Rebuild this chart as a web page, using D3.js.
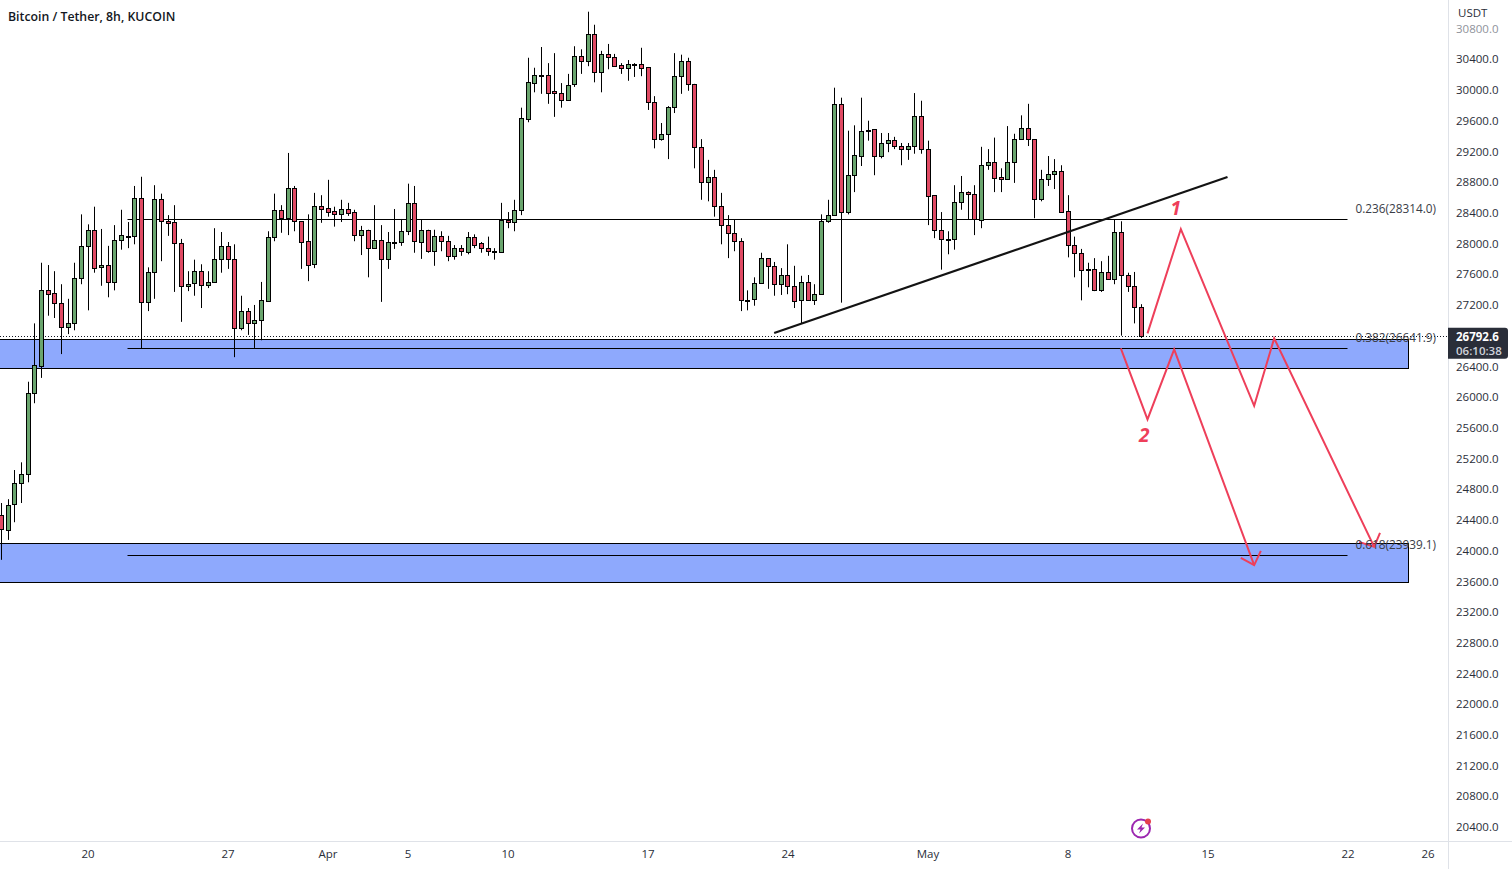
<!DOCTYPE html>
<html>
<head>
<meta charset="utf-8">
<style>
	html, body { margin: 0; padding: 0; background: #fff; overflow: hidden; }
	text { font-family: "Open Sans", sans-serif; }
</style>
</head>
<body>
<div id="chart"></div>
<script src="https://cdn.jsdelivr.net/npm/d3@7/dist/d3.min.js"></script>
<script>
// 8h candles, first bar is 15 Mar 16:00, one row per ten bars
const opens = [
	24460, 24280, 24600, 24880, 25000, 26050, 26400, 27390, 27350, 27220,
	26910, 26960, 27550, 27970, 28180, 27690, 27720, 27500, 28050, 28100,
	28090, 28590, 27240, 27630, 28580, 28290, 28280, 28010, 27450, 27490,
	27640, 27460, 27500, 27800, 27970, 27800, 26900, 27120, 26960, 27000,
	27260, 28090, 28440, 28330, 28720, 28290, 28030, 27730, 28490, 28460,
	28420, 28380, 28450, 28410, 28110, 28180, 27950, 28050, 27800, 28020,
	28020, 28160, 28530, 28030, 28180, 27910, 28100, 28030, 27840, 27940,
	27900, 28090, 28010, 27940, 27900, 27890, 28310, 28280, 28440, 29620,
	30100, 30200, 30200, 29990, 29960, 29870, 30070, 30440, 30380, 30730,
	30240, 30470, 30430, 30330, 30290, 30340, 30340, 30300, 29840, 29360,
	29430, 29780, 30180, 30380, 30080, 29260, 28800, 28870, 28490, 28240,
	28140, 28030, 27260, 27280, 27490, 27810, 27710, 27470, 27590, 27450,
	27260, 27500, 27260, 27340, 28290, 28370, 29820, 28410, 28890, 29150,
	29480, 29490, 29140, 29310, 29350, 29270, 29230, 29270, 29660, 29230,
	28630, 28180, 28060, 28060, 28540, 28670, 28640, 28310, 29020, 29060,
	28870, 28840, 29060, 29360, 29500, 29360, 28580, 28840, 28910, 28950,
	28420, 27980, 27880, 27670, 27670, 27390, 27630, 27540, 28150, 27590,
	27450, 27170
];
const highs = [
	24620, 24670, 25050, 25150, 26200, 26960, 27750, 27720, 27640, 27470,
	27280, 27750, 28380, 28250, 28480, 28190, 27970, 28240, 28440, 28280,
	28750, 28870, 27690, 28760, 28650, 28370, 28500, 28060, 27640, 27790,
	27730, 27640, 28200, 28150, 28020, 27990, 27320, 27160, 27200, 27500,
	28160, 28650, 28500, 29180, 28750, 28290, 28380, 28660, 28630, 28830,
	28480, 28570, 28530, 28440, 28230, 28180, 28500, 28240, 28150, 28450,
	28320, 28780, 28750, 28310, 28180, 28180, 28160, 28100, 27980, 27980,
	28150, 28120, 28020, 28090, 27940, 28530, 28410, 28570, 29770, 30420,
	30290, 30560, 30350, 30480, 30090, 30210, 30570, 30530, 31020, 30850,
	30510, 30600, 30470, 30350, 30390, 30350, 30550, 30300, 29920, 29570,
	29790, 30480, 30460, 30420, 30080, 29360, 29090, 28960, 28660, 28370,
	28310, 28070, 27390, 27560, 27880, 27810, 27760, 27680, 27990, 27710,
	27580, 27590, 27470, 28380, 28570, 30030, 29900, 29470, 29540, 29900,
	29600, 29490, 29440, 29440, 29390, 29310, 29310, 29960, 29860, 29340,
	28630, 28410, 28160, 28760, 28880, 28680, 28760, 29260, 29230, 29380,
	28980, 29530, 29430, 29670, 29820, 29360, 28960, 29140, 29100, 29020,
	28630, 28090, 27930, 27750, 27810, 27770, 27840, 28310, 28290, 27620,
	27630, 27210
];
const lows = [
	23880, 24140, 24370, 24620, 24890, 25920, 26250, 27060, 27030, 26560,
	26820, 26870, 27470, 27130, 27620, 27450, 27300, 27390, 27920, 27940,
	27990, 26630, 27120, 27280, 27770, 28100, 27370, 26980, 27380, 27320,
	27160, 27420, 27490, 27620, 27670, 26520, 26870, 26810, 26640, 26740,
	27240, 28030, 28140, 28110, 28160, 27670, 27510, 27680, 28270, 28350,
	28220, 28280, 28360, 28030, 27850, 27560, 27950, 27240, 27670, 27930,
	27970, 28110, 27880, 27800, 27880, 27710, 27900, 27770, 27790, 27840,
	27860, 27940, 27880, 27840, 27790, 27890, 28200, 28160, 28370, 29580,
	29970, 29950, 29820, 29650, 29770, 29860, 30040, 30210, 30310, 30100,
	29970, 30270, 30300, 30210, 30120, 30170, 30180, 29740, 29240, 29340,
	29100, 29700, 29950, 29990, 28980, 28570, 28550, 28350, 27990, 27810,
	27900, 27120, 27130, 27190, 27490, 27410, 27320, 27330, 27340, 27160,
	26960, 27260, 27200, 27330, 28270, 28370, 27230, 28380, 28670, 29010,
	29340, 28890, 29110, 29190, 29230, 29020, 29090, 29170, 29170, 28240,
	28070, 27660, 27860, 27920, 28440, 28320, 28110, 28200, 28960, 28670,
	28670, 28830, 28790, 29350, 29270, 28330, 28550, 28750, 28710, 28400,
	27820, 27560, 27260, 27430, 27380, 27370, 27540, 27470, 26800, 27370,
	26960, 26770
];
const closes = [
	24280, 24600, 24880, 25000, 26050, 26420, 27390, 27340, 27220, 26910,
	26960, 27550, 27970, 28180, 27690, 27720, 27500, 28050, 28110, 28090,
	28590, 27240, 27630, 28580, 28290, 28270, 28010, 27450, 27470, 27640,
	27460, 27500, 27800, 27970, 27800, 26900, 27120, 26960, 27000, 27260,
	28090, 28440, 28330, 28720, 28290, 28020, 27720, 28490, 28450, 28410,
	28380, 28450, 28400, 28110, 28180, 27950, 28050, 27800, 28020, 28010,
	28160, 28530, 28030, 28180, 27900, 28100, 28030, 27840, 27940, 27900,
	28090, 27990, 27940, 27900, 27890, 28310, 28280, 28440, 29640, 30100,
	30200, 30190, 29970, 29960, 29870, 30070, 30440, 30380, 30730, 30240,
	30470, 30430, 30310, 30290, 30340, 30330, 30290, 29840, 29360, 29430,
	29780, 30180, 30380, 30080, 29260, 28800, 28870, 28490, 28240, 28140,
	28030, 27260, 27250, 27490, 27810, 27710, 27470, 27590, 27450, 27260,
	27500, 27260, 27340, 28290, 28370, 29820, 28410, 28890, 29150, 29470,
	29470, 29140, 29310, 29350, 29270, 29230, 29270, 29660, 29230, 28620,
	28180, 28060, 28050, 28540, 28670, 28640, 28310, 29020, 29060, 28850,
	28840, 29060, 29360, 29500, 29360, 28580, 28840, 28910, 28950, 28410,
	27980, 27880, 27660, 27660, 27390, 27630, 27540, 28150, 27590, 27450,
	27170, 26792.6
];

const priceTicks = [
	30800, 30400, 30000, 29600, 29200, 28800, 28400, 28000, 27600, 27200,
	26400, 26000, 25600, 25200, 24800, 24400, 24000, 23600, 23200, 22800,
	22400, 22000, 21600, 21200, 20800, 20400
];
const timeTickDates = [
	'2023-03-20', '2023-03-27', '2023-04-01', '2023-04-05', '2023-04-10', '2023-04-17',
	'2023-04-24', '2023-05-01', '2023-05-08', '2023-05-15', '2023-05-22', '2023-05-26'
];
const timeTickLabels = ['20', '27', 'Apr', '5', '10', '17', '24', 'May', '8', '15', '22', '26'];

const firstBar = '2023-03-15T16:00Z';
const lastPrice = 26792.6;
const countdown = '06:10:38';

const fibLevels = [
	{ label: '0.236(28314.0)', price: 28314 },
	{ label: '0.382(26641.9)', price: 26641.9 },
	{ label: '0.618(23939.1)', price: 23939.1 }
];
const fibRange = ['2023-03-22T00:00Z', '2023-05-22T00:00Z'];

const zones = [
	{ from: '2023-03-10T00:00Z', to: '2023-05-25T00:00Z', top: 26755, bottom: 26371 },
	{ from: '2023-03-10T00:00Z', to: '2023-05-25T00:00Z', top: 24103, bottom: 23590 }
];

const trendLine = [['2023-04-23T08:00Z', 26834], ['2023-05-16T00:00Z', 28866]];

const forecastUp = [
	['2023-05-12T00:00Z', 26830], ['2023-05-13T16:00Z', 28189], ['2023-05-17T08:00Z', 25886],
	['2023-05-18T08:00Z', 26765], ['2023-05-23T08:00Z', 24049]
];
const forecastUpHead = [['2023-05-22T14:00Z', 24114], ['2023-05-23T08:00Z', 24049], ['2023-05-23T15:00Z', 24232]];
const forecastDown = [
	['2023-05-10T16:00Z', 26634], ['2023-05-12T00:00Z', 25709], ['2023-05-13T08:00Z', 26621],
	['2023-05-17T08:00Z', 23811]
];
const forecastDownHead = [['2023-05-16T16:00Z', 23906], ['2023-05-17T08:00Z', 23811], ['2023-05-17T16:00Z', 23997]];
const waveLabels = [
	{ text: '1', time: '2023-05-13T10:00Z', price: 28370 },
	{ text: '2', time: '2023-05-11T20:00Z', price: 25410 }
];

const width = 1512,
	height = 869,
	plotRight = 1448,
	plotBottom = 841,
	upColor = '#6aa56e',
	downColor = '#e04a64',
	zoneColor = '#8ea9fd',
	forecastColor = '#ee3f5a',
	textColor = '#2a2e39',
	axisLine = '#dfe2e8';

const xScale = d3.scaleUtc()
	.domain([new Date('2023-03-20T00:00Z'), new Date('2023-05-26T00:00Z')])
	.range([87.5, 1427.5]);
const yScale = d3.scaleLinear().domain([30000, 20400]).range([90, 827]);

const t = s => xScale(new Date(s));
const crisp = v => Math.round(v) + 0.5;

const svg = d3.select('#chart').append('svg')
	.attr('width', width)
	.attr('height', height);

svg.append('defs').append('clipPath').attr('id', 'plot')
	.append('rect').attr('width', plotRight).attr('height', plotBottom);

const g = svg.append('g').attr('clip-path', 'url(#plot)');

// Zones sit under the candles
g.selectAll('.zone')
	.data(zones)
	.enter().append('rect')
	.attr('class', 'zone')
	.attr('x', d => crisp(t(d.from)))
	.attr('y', d => crisp(yScale(d.top)))
	.attr('width', d => Math.round(t(d.to) - t(d.from)))
	.attr('height', d => Math.round(yScale(d.bottom) - yScale(d.top)))
	.attr('fill', zoneColor)
	.attr('stroke', '#000')
	.attr('stroke-width', 1);

// Last price dotted line
g.append('line')
	.attr('x1', 0)
	.attr('x2', plotRight)
	.attr('y1', crisp(yScale(lastPrice)))
	.attr('y2', crisp(yScale(lastPrice)))
	.attr('stroke', '#131722')
	.attr('stroke-dasharray', '1,2');

// Fib levels
g.selectAll('.fib')
	.data(fibLevels)
	.enter().append('line')
	.attr('class', 'fib')
	.attr('x1', t(fibRange[0]))
	.attr('x2', t(fibRange[1]))
	.attr('y1', d => crisp(yScale(d.price)))
	.attr('y2', d => crisp(yScale(d.price)))
	.attr('stroke', '#000')
	.attr('stroke-width', 1);

// Candles
const barTimes = closes.map((c, i) => d3.utcHour.offset(new Date(firstBar), i * 8));
const bars = g.selectAll('.bar')
	.data(closes)
	.enter().append('g')
	.attr('class', 'bar');

bars.append('line')
	.attr('x1', (d, i) => crisp(xScale(barTimes[i])))
	.attr('x2', (d, i) => crisp(xScale(barTimes[i])))
	.attr('y1', (d, i) => yScale(highs[i]))
	.attr('y2', (d, i) => yScale(lows[i]))
	.attr('stroke', '#000');

bars.append('rect')
	.attr('x', (d, i) => crisp(xScale(barTimes[i])) - 2)
	.attr('y', (d, i) => crisp(yScale(Math.max(opens[i], d))))
	.attr('width', 4)
	.attr('height', (d, i) => Math.max(1, Math.round(Math.abs(yScale(opens[i]) - yScale(d)))))
	.attr('fill', (d, i) => d >= opens[i] ? upColor : downColor)
	.attr('stroke', '#000');

const line = d3.line()
	.x(d => t(d[0]))
	.y(d => yScale(d[1]));

// Trend line
g.append('path')
	.attr('d', line(trendLine))
	.attr('fill', 'none')
	.attr('stroke', '#131313')
	.attr('stroke-width', 2.2);

// Projected moves
[forecastUp, forecastUpHead, forecastDown, forecastDownHead].forEach(pts => {
	g.append('path')
		.attr('d', line(pts))
		.attr('fill', 'none')
		.attr('stroke', forecastColor)
		.attr('stroke-width', 2);
});

g.selectAll('.wave')
	.data(waveLabels)
	.enter().append('text')
	.attr('class', 'wave')
	.attr('x', d => t(d.time))
	.attr('y', d => yScale(d.price))
	.attr('text-anchor', 'middle')
	.attr('fill', forecastColor)
	.attr('font-size', 19)
	.attr('font-weight', 700)
	.attr('font-style', 'italic')
	.text(d => d.text);

// Fib labels
g.selectAll('.fib-label')
	.data(fibLevels)
	.enter().append('text')
	.attr('class', 'fib-label')
	.attr('x', 1436)
	.attr('y', d => crisp(yScale(d.price)) - 7)
	.attr('text-anchor', 'end')
	.attr('fill', '#3a3d47')
	.attr('font-size', 11.8)
	.text(d => d.label);

// Axes
const yAxis = svg.append('g')
	.attr('transform', 'translate(' + plotRight + ',0)')
	.call(d3.axisRight(yScale).tickValues(priceTicks).tickSize(0).tickPadding(8).tickFormat(d3.format('.1f')));
yAxis.select('.domain').remove();
yAxis.selectAll('text')
	.style('font-family', '"Open Sans", sans-serif')
	.attr('font-size', 11.5)
	.attr('fill', d => d === 30800 ? '#8f929b' : textColor);

const xAxis = svg.append('g')
	.attr('transform', 'translate(0,' + plotBottom + ')')
	.call(d3.axisBottom(xScale)
		.tickValues(timeTickDates.map(s => new Date(s + 'T00:00Z')))
		.tickSize(0)
		.tickPadding(9)
		.tickFormat((d, i) => timeTickLabels[i]));
xAxis.select('.domain').remove();
xAxis.selectAll('text')
	.style('font-family', '"Open Sans", sans-serif')
	.attr('font-size', 11.5)
	.attr('fill', textColor);

svg.append('line')
	.attr('x1', crisp(plotRight)).attr('x2', crisp(plotRight))
	.attr('y1', 0).attr('y2', height)
	.attr('stroke', axisLine);
svg.append('line')
	.attr('x1', 0).attr('x2', width)
	.attr('y1', crisp(plotBottom)).attr('y2', crisp(plotBottom))
	.attr('stroke', axisLine);

svg.append('text')
	.attr('x', 1458)
	.attr('y', 17)
	.attr('fill', textColor)
	.attr('font-size', 11.5)
	.text('USDT');

svg.append('text')
	.attr('x', 8)
	.attr('y', 21)
	.attr('fill', '#131722')
	.attr('font-size', 12.3)
	.attr('font-weight', 600)
	.text('Bitcoin / Tether, 8h, KUCOIN');

// Last price tag
const tagY = yScale(lastPrice);
svg.append('path')
	.attr('d', 'M' + plotRight + ',' + (tagY - 8.5) + 'h57a3,3 0 0 1 3,3v25a3,3 0 0 1 -3,3h-57z')
	.attr('fill', '#2a2e39');
svg.append('text')
	.attr('x', 1456)
	.attr('y', tagY + 4.5)
	.attr('fill', '#fff')
	.attr('font-size', 11.5)
	.attr('font-weight', 700)
	.text(d3.format('.1f')(lastPrice));
svg.append('text')
	.attr('x', 1456)
	.attr('y', tagY + 19)
	.attr('fill', '#cfd2da')
	.attr('font-size', 11.5)
	.attr('font-weight', 600)
	.text(countdown);

// Earnings style marker near the bottom
const marker = svg.append('g').attr('transform', 'translate(1141,828.5)');
marker.append('circle')
	.attr('r', 9)
	.attr('fill', '#fff')
	.attr('stroke', '#9c27b0')
	.attr('stroke-width', 2);
marker.append('path')
	.attr('d', 'M2,-5L-4,1H-0.5L-2,5L4,-1H0.5z')
	.attr('fill', '#9c27b0');
marker.append('circle')
	.attr('cx', 7)
	.attr('cy', -7)
	.attr('r', 3)
	.attr('fill', '#e5404d');
</script>
</body>
</html>
